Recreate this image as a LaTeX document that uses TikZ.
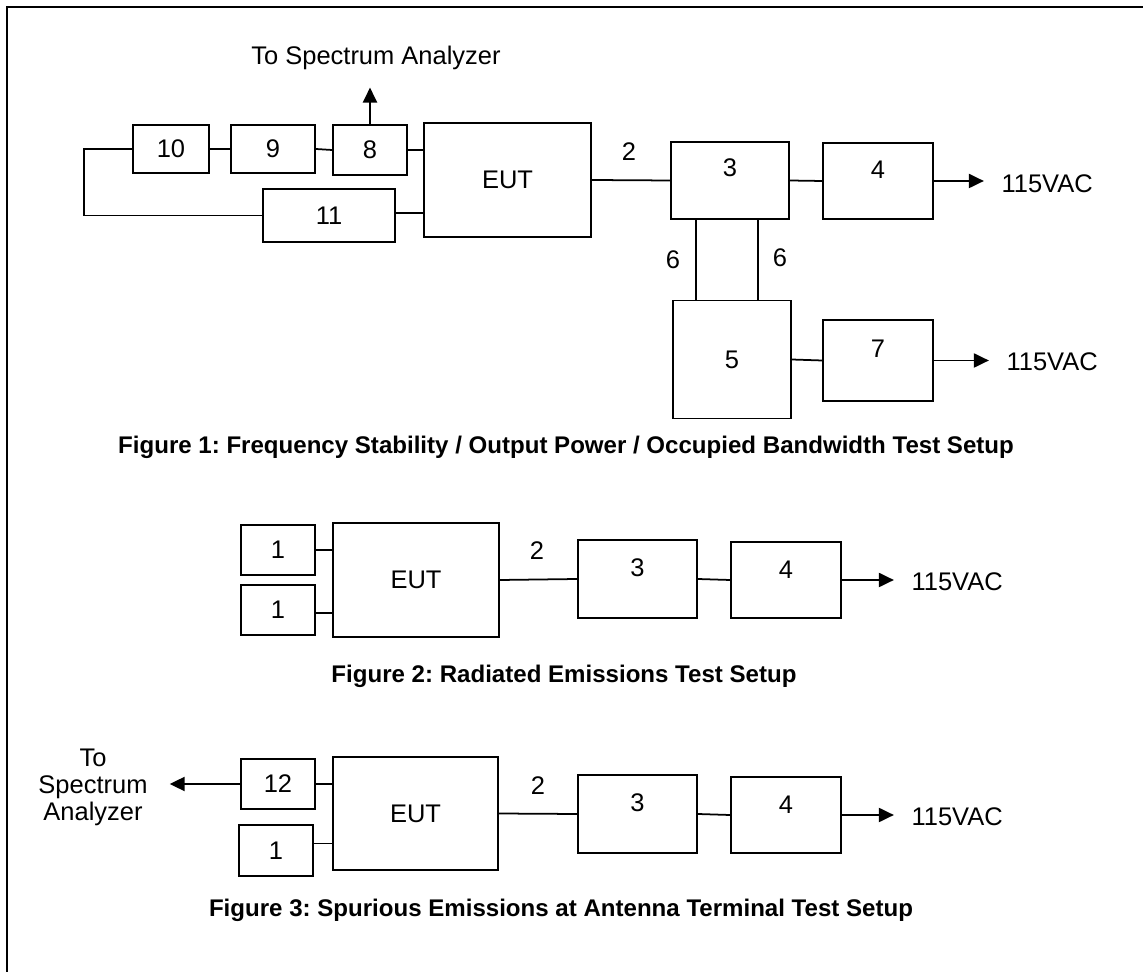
\documentclass[tikz,border=0pt]{standalone}
\usepackage{fontspec}
\setmainfont{Liberation Sans}
\usetikzlibrary{arrows.meta}
\frenchspacing

\begin{document}
\begin{tikzpicture}[x=0.02cm, y=-0.02cm,
	every node/.style={font=\fontsize{14.5}{17}\selectfont},
	box/.style={draw, line width=1pt, inner sep=0pt},
	raised/.style={text depth=#1}, raised/.default=0.45cm,
	arr/.style={line width=1pt, -{Triangle[length=8.5pt,width=8pt]}},
	wire/.style={line width=1pt},
	figcap/.style={font=\fontsize{13.7}{16}\selectfont\bfseries}]
	\useasboundingbox (0,0) rectangle (1143,972);
	\draw[line width=1.2pt] (7,972) -- (7,7) -- (1143,7);
	% figure 1
	\node[box, minimum width=1.52cm, minimum height=0.96cm] (f1b10) at (171,149) {10};
	\node[box, minimum width=1.68cm, minimum height=0.96cm] (f1b9) at (273,149) {9};
	\node[box, minimum width=1.48cm, minimum height=1cm] (f1b8) at (370,150) {8};
	\node[box, minimum width=2.64cm, minimum height=1.06cm] (f1b11) at (329,215.5) {11};
	\node[box, minimum width=3.34cm, minimum height=2.28cm] (f1eut) at (507.5,180) {EUT};
	\node[box, raised=0.5cm, minimum width=2.36cm, minimum height=1.54cm] (f1b3) at (730,180.5) {3};
	\node[box, raised=0.44cm, minimum width=2.2cm, minimum height=1.52cm] (f1b4) at (878,181) {4};
	\node[box, minimum width=2.36cm, minimum height=2.36cm] (f1b5) at (732,359.5) {5};
	\node[box, raised=0.48cm, minimum width=2.2cm, minimum height=1.62cm] (f1b7) at (878,360.5) {7};
	\node (f1sa) at (376,58) {To Spectrum Analyzer};
	\node (f1n2) at (629,152) {2};
	\node (f1n6a) at (673,260) {6};
	\node (f1n6b) at (780,258) {6};
	\draw[wire] (f1b10.west) -- ++(-48,0) |- (f1b11.west);
	\draw[wire] (f1b10) -- (f1b9);
	\draw[wire] (f1b9.east) -- (f1b8.west);
	\draw[wire] (f1b8.east) -- (f1b8.east -| f1eut.west);
	\draw[wire] ([yshift=0.05cm]f1b11.east) -- ([yshift=0.05cm]f1b11.east -| f1eut.west);
	\draw[arr, shorten >=0.23cm] (f1b8.north) -- (f1b8.north |- f1sa.south);
	\draw[wire] (f1eut.east) -- (f1b3.west);
	\draw[wire] (f1b3.east) -- (f1b4.west);
	\draw[wire] ([xshift=0.52cm]f1b3.south west) -- ([xshift=0.52cm]f1b3.south west |- f1b5.north);
	\draw[wire] ([xshift=1.76cm]f1b3.south west) -- ([xshift=1.76cm]f1b3.south west |- f1b5.north);
	\draw[wire] (f1b5.east) -- (f1b7.west);
	\draw[arr] (f1b4.east) -- ++(50,0) node[anchor=west, xshift=0.22cm, yshift=-0.06cm] (f1v1) {115VAC};
	\draw[arr] (f1b7.east) -- ++(55,0) node[anchor=west, xshift=0.22cm, yshift=-0.02cm] (f1v2) {115VAC};
	\node[figcap] (f1cap) at (566,447) {Figure 1: Frequency Stability / Output Power / Occupied Bandwidth Test Setup};
	% figure 2
	\node[box, minimum width=1.48cm, minimum height=1cm] (f2b1a) at (278,550) {1};
	\node[box, minimum width=1.48cm, minimum height=1cm] (f2b1b) at (278,610) {1};
	\node[box, minimum width=3.32cm, minimum height=2.28cm] (f2eut) at (416,580) {EUT};
	\node[box, raised=0.44cm, minimum width=2.38cm, minimum height=1.56cm] (f2b3) at (637.5,579) {3};
	\node[box, raised=0.4cm, minimum width=2.2cm, minimum height=1.52cm] (f2b4) at (786,580) {4};
	\node (f2n2) at (537,551) {2};
	\draw[wire] (f2b1a.east) -- (f2b1a.east -| f2eut.west);
	\draw[wire] ([yshift=-0.06cm]f2b1b.east) -- ([yshift=-0.06cm]f2b1b.east -| f2eut.west);
	\draw[wire] (f2eut.east) -- (f2b3.west);
	\draw[wire] (f2b3.east) -- (f2b4.west);
	\draw[arr] (f2b4.east) -- ++(52,0) node[anchor=west, xshift=0.22cm, yshift=-0.04cm] (f2v) {115VAC};
	\node[figcap] (f2cap) at (564,676) {Figure 2: Radiated Emissions Test Setup};
	% figure 3
	\node[box, minimum width=1.48cm, minimum height=1cm] (f3b12) at (278,784) {12};
	\node[box, minimum width=1.48cm, minimum height=1.02cm] (f3b1) at (276,850.5) {1};
	\node[box, minimum width=3.3cm, minimum height=2.26cm] (f3eut) at (415.5,813.5) {EUT};
	\node[box, raised=0.44cm, minimum width=2.38cm, minimum height=1.56cm] (f3b3) at (637.5,814) {3};
	\node[box, raised=0.4cm, minimum width=2.2cm, minimum height=1.52cm] (f3b4) at (786,815) {4};
	\node[align=center, font=\fontsize{14.5}{15.3}\selectfont] (f3sa) at (93,787) {To\\Spectrum\\Analyzer};
	\node (f3n2) at (538,786) {2};
	\draw[wire] (f3b12.east) -- (f3b12.east -| f3eut.west);
	\draw[wire] ([yshift=0.14cm]f3b1.east) -- ([yshift=0.14cm]f3b1.east -| f3eut.west);
	\draw[arr] (f3b12.west) -- ([xshift=0.32cm]f3sa.east |- f3b12.west);
	\draw[wire] (f3eut.east) -- (f3b3.west);
	\draw[wire] (f3b3.east) -- (f3b4.west);
	\draw[arr] (f3b4.east) -- ++(52,0) node[anchor=west, xshift=0.22cm, yshift=-0.04cm] (f3v) {115VAC};
	\node[figcap] (f3cap) at (561,910) {Figure 3: Spurious Emissions at Antenna Terminal Test Setup};
\end{tikzpicture}
\end{document}
